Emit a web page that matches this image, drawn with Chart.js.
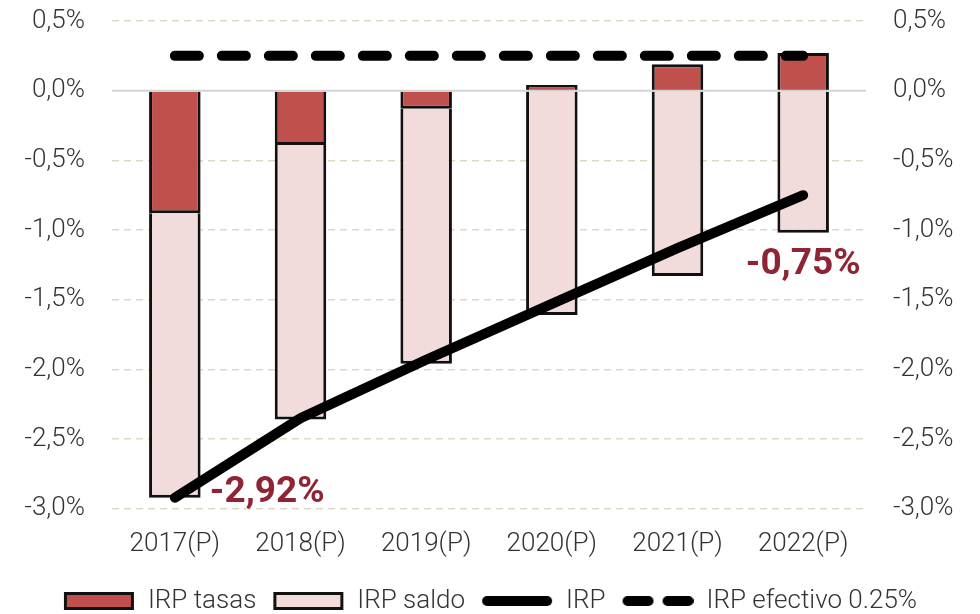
<html><head><meta charset="UTF-8">
<title>IRP</title>
<script src="https://cdn.jsdelivr.net/npm/chart.js"></script>
<style>
body { margin: 0; background: #fff; }
.wrap { position: relative; width: 980px; height: 614px; }
</style>
</head>
<body>
<div class="wrap"><canvas id="irpChart"></canvas></div>
<script>
// datos
const categories = ['2017(P)', '2018(P)', '2019(P)', '2020(P)', '2021(P)', '2022(P)'];
const irpTasas = [-0.88, -0.39, -0.13, 0.04, 0.19, 0.27];
const irpSaldo = [-2.04, -1.97, -1.83, -1.61, -1.33, -1.02];
const irp = [-2.92, -2.35, -1.93, -1.53, -1.13, -0.75];
const irpEfectivo = [0.25, 0.25, 0.25, 0.25, 0.25, 0.25];
const yTicks = [-3.0, -2.5, -2.0, -1.5, -1.0, -0.5, 0.0, 0.5];

const RED = '#c0504d';
const PINK = '#f2dcdb';
const LABEL_RED = '#8e2434';
const FONT = 'Roboto';

const fmt = v => v.toFixed(1).replace('.', ',') + '%';
const fmt2 = v => v.toFixed(2).replace('.', ',') + '%';

// legend icons
function icon(draw) {
  const c = document.createElement('canvas');
  c.width = 72; c.height = 22;
  draw(c.getContext('2d'));
  return c;
}
const iconTasas = icon(ctx => {
  ctx.fillStyle = RED; ctx.fillRect(2, 3, 68, 16);
  ctx.strokeStyle = '#111'; ctx.lineWidth = 3; ctx.strokeRect(2.5, 3.5, 67, 15);
});
const iconSaldo = icon(ctx => {
  ctx.fillStyle = PINK; ctx.fillRect(2, 3, 68, 16);
  ctx.strokeStyle = '#111'; ctx.lineWidth = 3; ctx.strokeRect(2.5, 3.5, 67, 15);
});
const iconIrp = icon(ctx => {
  ctx.strokeStyle = '#000'; ctx.lineWidth = 10; ctx.lineCap = 'round';
  ctx.beginPath(); ctx.moveTo(6, 11); ctx.lineTo(66, 11); ctx.stroke();
});
const iconEf = icon(ctx => {
  ctx.strokeStyle = '#000'; ctx.lineWidth = 10; ctx.lineCap = 'round';
  ctx.setLineDash([21, 19]);
  ctx.beginPath(); ctx.moveTo(6, 11); ctx.lineTo(68, 11); ctx.stroke();
});
const legendIcons = [iconTasas, iconSaldo, iconIrp, iconEf];

// zero line + value labels
const extras = {
  id: 'extras',
  afterDatasetsDraw(chart) {
    const {ctx, chartArea, scales} = chart;
    const y0 = scales.y.getPixelForValue(0);
    ctx.save();
    ctx.strokeStyle = '#d4d4d4';
    ctx.lineWidth = 2;
    ctx.beginPath(); ctx.moveTo(chartArea.left, y0); ctx.lineTo(chartArea.right, y0); ctx.stroke();

    const pts = chart.getDatasetMeta(2).data;
    ctx.fillStyle = LABEL_RED;
    ctx.font = 'bold 37px ' + FONT;
    ctx.textBaseline = 'middle';
    const first = pts[0], last = pts[pts.length - 1];
    ctx.textAlign = 'left';
    ctx.fillText(fmt2(irp[0]), first.x + 35, first.y - 5);
    ctx.textAlign = 'center';
    ctx.fillText(fmt2(irp[irp.length - 1]), last.x, last.y + 70);
    ctx.restore();
  }
};

const tickFont = {family: FONT, size: 26, weight: '300'};

new Chart(document.getElementById('irpChart'), {
  type: 'bar',
  data: {
    labels: categories,
    datasets: [
      {label: 'IRP tasas', data: irpTasas, backgroundColor: RED, borderColor: '#111', borderWidth: 3,
       stack: 'bars', order: 2, categoryPercentage: 1, barPercentage: 0.41},
      {label: 'IRP saldo', data: irpSaldo, backgroundColor: PINK, borderColor: '#111', borderWidth: 3,
       stack: 'bars', order: 2, categoryPercentage: 1, barPercentage: 0.41},
      {type: 'line', label: 'IRP', data: irp, borderColor: '#000', borderWidth: 10,
       borderCapStyle: 'round', pointRadius: 0, stack: 'irp', order: 1, tension: 0},
      {type: 'line', label: 'IRP efectivo 0.25%', data: irpEfectivo, borderColor: '#000', borderWidth: 10,
       borderCapStyle: 'round', borderDash: [24, 23], pointRadius: 0, stack: 'ef', order: 0, tension: 0}
    ]
  },
  options: {
    responsive: true,
    maintainAspectRatio: false,
    animation: false,
    layout: {padding: {top: 21, bottom: -10}},
    plugins: {
      tooltip: {enabled: false},
      legend: {
        position: 'bottom',
        labels: {
          usePointStyle: true,
          pointStyleWidth: 72,
          padding: 16,
          color: '#333',
          font: {family: FONT, size: 26, weight: '300'},
          generateLabels: chart => chart.data.datasets.map((ds, i) => ({
            text: ds.label, pointStyle: legendIcons[i], datasetIndex: i,
            hidden: false, fontColor: '#333', lineWidth: 0
          }))
        }
      }
    },
    scales: {
      x: {
        stacked: true,
        grid: {display: false},
        border: {display: false},
        ticks: {color: '#333', font: tickFont, padding: 12}
      },
      y: {
        stacked: true,
        min: -3, max: 0.5,
        afterBuildTicks: s => { s.ticks = yTicks.map(v => ({value: v})); },
        afterFit: s => { s.width = 112; s.paddingTop = 0; s.paddingBottom = 0; },
        grid: {drawTicks: false, lineWidth: 1.5,
               color: c => (c.tick && c.tick.value === 0) ? 'rgba(0,0,0,0)' : '#ddd9c3'},
        border: {display: false, dash: [7, 5]},
        ticks: {color: '#333', font: tickFont, padding: 27, callback: v => fmt(v)}
      },
      y2: {
        position: 'right',
        min: -3, max: 0.5,
        afterBuildTicks: s => { s.ticks = yTicks.map(v => ({value: v})); },
        afterFit: s => { s.width = 114; s.paddingTop = 0; s.paddingBottom = 0; },
        grid: {display: false, drawTicks: false},
        border: {display: false},
        ticks: {color: '#333', font: tickFont, padding: 27, callback: v => fmt(v)}
      }
    }
  },
  plugins: [extras]
});
</script>
</body></html>
